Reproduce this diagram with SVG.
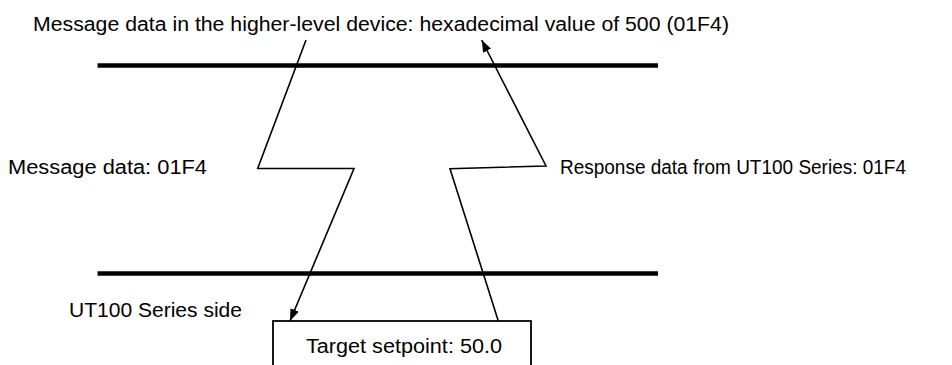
<svg xmlns="http://www.w3.org/2000/svg" width="952" height="365" viewBox="0 0 952 365">
<style>
text{font-family:"Liberation Sans",Arial,sans-serif;font-size:20px;fill:#000}
.bar{stroke:#000;stroke-width:4.5;fill:none}
.conn{stroke:#000;stroke-width:1.6;fill:none;stroke-linejoin:miter}
.box{stroke:#000;stroke-width:1.8;fill:#fff}
</style>
<defs>
<marker id="arr" markerUnits="userSpaceOnUse" markerWidth="13" markerHeight="10" refX="12" refY="4.5" orient="auto">
<path d="M0,0 L12,4.5 L0,9 z" fill="#000"/>
</marker>
</defs>
<rect width="952" height="365" fill="#fff"/>
<g id="title"><text x="33" y="31" textLength="696" lengthAdjust="spacingAndGlyphs">Message data in the higher-level device: hexadecimal value of 500 (01F4)</text></g>
<g id="host-line"><line class="bar" x1="97.5" y1="65.5" x2="658" y2="65.5"/></g>
<g id="ut-line"><line class="bar" x1="97.5" y1="273.5" x2="658" y2="273.5"/></g>
<g id="label-message"><text x="8" y="174" textLength="199" lengthAdjust="spacingAndGlyphs">Message data: 01F4</text></g>
<g id="label-response"><text x="560" y="174" textLength="346" lengthAdjust="spacingAndGlyphs">Response data from UT100 Series: 01F4</text></g>
<g id="label-side"><text x="69" y="317" textLength="173" lengthAdjust="spacingAndGlyphs">UT100 Series side</text></g>
<g id="target-box">
<rect class="box" x="273" y="321" width="258" height="60"/>
<text x="306" y="353" textLength="196" lengthAdjust="spacingAndGlyphs">Target setpoint: 50.0</text>
</g>
<g id="connectors">
<polyline class="conn" points="306,40 257.7,168.5 354,168.5 290,321" marker-end="url(#arr)"/>
<polyline class="conn" points="498.3,321 450,168.7 546,166 481.7,40" marker-end="url(#arr)"/>
</g>
</svg>
